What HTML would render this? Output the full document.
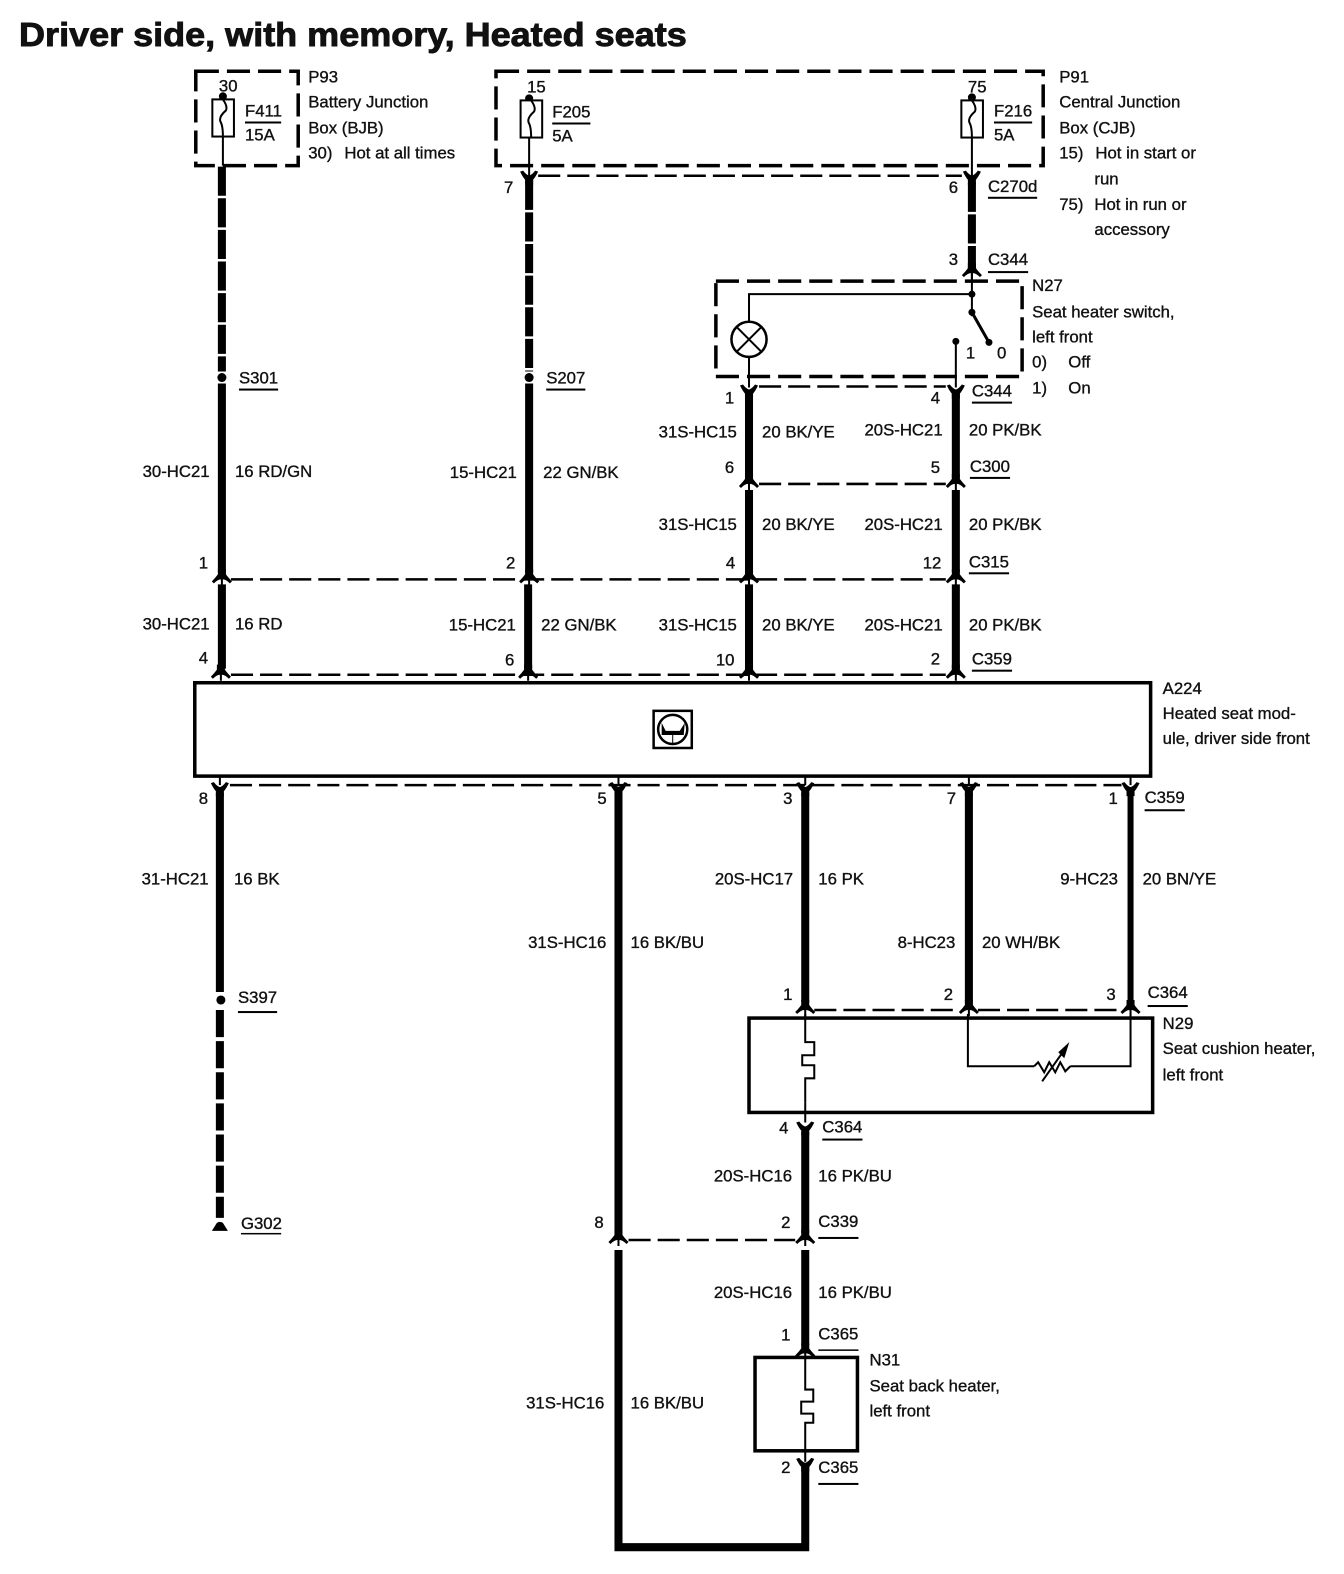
<!DOCTYPE html>
<html><head><meta charset="utf-8"><title>Driver side, with memory, Heated seats</title>
<style>
html,body{margin:0;padding:0;background:#fff;overflow:hidden}
svg{display:block}
text{font-family:"Liberation Sans",Arial,sans-serif;font-size:16.7px;fill:#111;stroke:#111;stroke-width:.35}
.t{font-size:33px;font-weight:bold;stroke-width:.9}
.b{fill:none;stroke:#000;stroke-width:3.5;stroke-dasharray:23 8}
.bus{fill:none;stroke:#000;stroke-width:2.5;stroke-dasharray:22 7}
.thin{fill:none;stroke:#000;stroke-width:2}
.box{fill:none;stroke:#000;stroke-width:3.5}
.w{stroke:#000;stroke-width:8;fill:none}
.wd{stroke:#000;stroke-width:8;fill:none;stroke-dasharray:29 2.5}
.wdl{stroke:#000;stroke-width:8;fill:none;stroke-dasharray:27 4}
</style></head><body>
<svg width="1344" height="1574" viewBox="0 0 1338.6 1567.7" preserveAspectRatio="none" xmlns="http://www.w3.org/2000/svg">
<defs>
<path id="up" d="M-4 -8 L4 -8 L4 -3 Q6 0 10 4 L8 6 Q4 2 1 2 L1 8 L-1 8 L-1 2 Q-4 2 -8 6 L-10 4 Q-6 0 -4 -3 Z" fill="#000"/>
<path id="yy" d="M-9 -5 L-6 -6 Q-3 -2 0 -1 Q3 -2 6 -6 L9 -5 Q6 1 4 3 L4 8 L-4 8 L-4 3 Q-6 1 -9 -5 Z" fill="#000"/>
<g id="fuse"><rect x="-10.5" y="0" width="21.5" height="37" fill="#fff" stroke="#000" stroke-width="2"/><path d="M0 0 Q5 7 3 11 Q-5 18 -2 23 Q0 27 0 37" class="thin"/></g>
<g id="heat"><path d="M0 0 V24 H9 V37 H-3 V47 H9 V60 H0 V84" class="thin"/></g>
</defs>
<rect width="1344" height="1574" fill="#fff"/>
<text class="t" x="19" y="46" textLength="665" lengthAdjust="spacingAndGlyphs">Driver side, with memory, Heated seats</text>

<!-- Junction boxes -->
<rect class="b" x="195" y="71" width="102" height="94"/>
<rect class="b" x="494" y="71" width="545" height="94"/>
<path class="thin" d="M222 92V165M527 98V178M968 94V178"/>
<circle cx="222" cy="96" r="4"/><circle cx="527" cy="98" r="4"/><circle cx="968" cy="97" r="4"/>
<use href="#fuse" x="222" y="99"/><use href="#fuse" x="529" y="100"/><use href="#fuse" x="968" y="100"/>
<rect x="244" y="121" width="36" height="2"/><rect x="550" y="122" width="38" height="2"/><rect x="990" y="121" width="38" height="2"/>

<text x="218" y="91">30</text><text x="525" y="92">15</text><text x="964" y="92">75</text>
<text x="244" y="116">F411</text><text x="244" y="140">15A</text>
<text x="550" y="117">F205</text><text x="550" y="141">5A</text>
<text x="990" y="116">F216</text><text x="990" y="140">5A</text>
<text x="307" y="82">P93</text><text x="307" y="107">Battery Junction</text><text x="307" y="133">Box (BJB)</text>
<text x="307" y="158">30)</text><text x="343" y="158">Hot at all times</text>
<text x="1055" y="82">P91</text><text x="1055" y="107">Central Junction</text><text x="1055" y="133">Box (CJB)</text>
<text x="1055" y="158">15)</text><text x="1091" y="158">Hot in start or</text><text x="1090" y="184">run</text>
<text x="1055" y="209">75)</text><text x="1090" y="209">Hot in run or</text><text x="1090" y="234">accessory</text>

<!-- Upper wires -->
<path class="wd" d="M221 166V370"/><circle cx="221" cy="376" r="4.5"/><path class="w" d="M221 382V570"/>
<path class="wd" d="M527 180V370"/><circle cx="527" cy="376" r="4.5"/><path class="w" d="M527 382V570"/>
<path class="wd" d="M968 182V268"/>
<use href="#yy" x="527" y="176"/><use href="#yy" x="968" y="176"/><path class="bus" d="M536 175H958"/>
<use href="#up" x="968" y="270"/>

<!-- Seat switch N27 -->
<rect class="b" x="713" y="280" width="305" height="95"/>
<path class="thin" d="M968 272V315M746 322V293H968M746 354V386M952 340V386"/>
<path d="M968 311L985 341" stroke="#000" stroke-width="3"/>
<circle cx="968" cy="293" r="3.5"/><circle cx="968" cy="311" r="3.5"/><circle cx="985" cy="341" r="3.5"/><circle cx="952" cy="340" r="3.5"/>
<circle cx="746" cy="338" r="17.5" fill="#fff" stroke="#000" stroke-width="2.5"/>
<path class="thin" d="M734 326L758 350M758 326L734 350"/>
<text x="962" y="357">1</text><text x="993" y="357">0</text>
<text x="1028" y="290">N27</text><text x="1028" y="316">Seat heater switch,</text><text x="1028" y="341">left front</text>
<text x="1028" y="366">0)</text><text x="1064" y="366">Off</text><text x="1028" y="392">1)</text><text x="1064" y="392">On</text>

<!-- Middle wires -->
<path class="w" d="M746 390V476M952 390V476M746 488V570M952 488V570M221 582V666M526 582V666M746 582V666M952 582V666"/>
<use href="#yy" x="746" y="389"/><use href="#yy" x="952" y="389"/>
<use href="#up" x="746" y="480"/><use href="#up" x="952" y="480"/>
<use href="#up" x="221" y="575"/><use href="#up" x="527" y="575"/><use href="#up" x="746" y="575"/><use href="#up" x="952" y="575"/>
<use href="#up" x="220" y="670"/><use href="#up" x="526" y="670"/><use href="#up" x="746" y="670"/><use href="#up" x="952" y="670"/>
<path class="bus" d="M756 385H942M756 482H942M230 577H942M230 672H942"/>

<text x="502" y="192">7</text><text x="945" y="192">6</text>
<text x="984" y="191">C270d</text><rect x="984" y="196" width="49" height="2"/>
<text x="945" y="264">3</text><text x="984" y="264">C344</text><rect x="984" y="270" width="40" height="2"/>
<text x="238" y="382">S301</text><rect x="238" y="387" width="39" height="2"/>
<text x="544" y="382">S207</text><rect x="544" y="387" width="39" height="2"/>
<text x="722" y="402">1</text><text x="927" y="402">4</text><text x="968" y="395">C344</text><rect x="968" y="400" width="40" height="2"/>
<text x="656" y="436">31S-HC15</text><text x="759" y="436">20 BK/YE</text><text x="861" y="434">20S-HC21</text><text x="965" y="434">20 PK/BK</text>
<text x="142" y="475">30-HC21</text><text x="234" y="475">16 RD/GN</text><text x="448" y="476">15-HC21</text><text x="541" y="476">22 GN/BK</text>
<text x="722" y="471">6</text><text x="927" y="471">5</text><text x="966" y="470">C300</text><rect x="966" y="475" width="40" height="2"/>
<text x="656" y="528">31S-HC15</text><text x="759" y="528">20 BK/YE</text><text x="861" y="528">20S-HC21</text><text x="965" y="528">20 PK/BK</text>
<text x="198" y="566">1</text><text x="504" y="566">2</text><text x="723" y="566">4</text><text x="919" y="566">12</text><text x="965" y="565">C315</text><rect x="965" y="570" width="40" height="2"/>
<text x="142" y="627">30-HC21</text><text x="234" y="627">16 RD</text><text x="447" y="628">15-HC21</text><text x="539" y="628">22 GN/BK</text>
<text x="656" y="628">31S-HC15</text><text x="759" y="628">20 BK/YE</text><text x="861" y="628">20S-HC21</text><text x="965" y="628">20 PK/BK</text>
<text x="198" y="661">4</text><text x="503" y="663">6</text><text x="713" y="663">10</text><text x="927" y="662">2</text><text x="968" y="662">C359</text><rect x="968" y="667" width="40" height="2"/>

<!-- Module A224 -->
<rect class="box" x="194" y="680" width="952" height="93" fill="#fff"/>
<rect x="651" y="708" width="38" height="37" fill="#fff" stroke="#000" stroke-width="2.5"/>
<circle cx="670" cy="726.500" r="14.500" fill="none" stroke="#000" stroke-width="2.5"/>
<path d="M659 720L663 728H677L682 720L681 732H659Z" fill="#000"/><path d="M670 732V741" stroke="#000" stroke-width="1"/>
<text x="1158" y="691">A224</text><text x="1158" y="716">Heated seat mod-</text><text x="1158" y="741">ule, driver side front</text>

<!-- Lower wires -->
<path class="thin" d="M219 773V782M616 773V782M802 773V782M965 773V782M1126 773V782"/>
<use href="#yy" x="219" y="785"/><use href="#yy" x="616" y="785"/><use href="#yy" x="802" y="785"/><use href="#yy" x="965" y="785"/><use href="#yy" x="1126" y="785"/>
<path class="bus" d="M229 782H1117"/>
<path class="w" d="M219 790V988M616 790V1228M802 790V998M965 790V998"/>
<path stroke="#000" stroke-width="6" d="M1126 790V998"/>
<circle cx="220" cy="996" r="4.500"/>
<path class="wdl" d="M219 1006V1213"/>
<path d="M211 1226H227L222 1218Q219 1216 216 1218Z" fill="#000"/>
<use href="#up" x="802" y="1004"/><use href="#up" x="965" y="1004"/><use href="#up" x="1126" y="1004"/>
<path class="bus" d="M811 1006H956M974 1006H1117"/>

<!-- N29 -->
<rect class="box" x="746" y="1014" width="402" height="94"/>
<path class="thin" d="M802 1010V1014M964 1010V1062H1030M1066 1062H1126V1010"/>
<use href="#heat" x="802" y="1014"/>
<path class="thin" d="M802 1098V1118"/>
<path class="thin" d="M1030 1062L1034 1058L1040 1068L1045 1058L1051 1068L1056 1058L1061 1067L1066 1062"/>
<path class="thin" d="M1038 1077L1062 1043"/><path d="M1065 1038L1054 1048L1060 1054Z" fill="#000"/>
<use href="#yy" x="802" y="1123"/>
<path class="w" d="M802 1128V1228"/>
<text x="776" y="1129">4</text><text x="819" y="1128">C364</text><rect x="819" y="1134" width="40" height="2"/>
<text x="1158" y="1025">N29</text><text x="1158" y="1050">Seat cushion heater,</text><text x="1158" y="1076">left front</text>

<!-- C339 -->
<use href="#up" x="616" y="1233"/><use href="#up" x="802" y="1233"/>
<path class="bus" d="M626 1235H792"/>
<path class="w" d="M616 1245V1541H802V1458M802 1245V1340"/>
<use href="#up" x="802" y="1346"/>

<!-- N31 -->
<rect class="box" x="752" y="1352" width="102" height="93"/>
<path class="thin" d="M802 1352V1384H810V1396H798V1408H810V1417H802V1456"/>
<use href="#yy" x="802" y="1458"/>

<text x="198" y="801">8</text><text x="595" y="801">5</text><text x="780" y="801">3</text><text x="943" y="801">7</text><text x="1104" y="801">1</text><text x="1140" y="800">C359</text><rect x="1140" y="806" width="40" height="2"/>
<text x="141" y="881">31-HC21</text><text x="233" y="881">16 BK</text>
<text x="712" y="881">20S-HC17</text><text x="815" y="881">16 PK</text>
<text x="1056" y="881">9-HC23</text><text x="1138" y="881">20 BN/YE</text>
<text x="526" y="944">31S-HC16</text><text x="628" y="944">16 BK/BU</text>
<text x="894" y="944">8-HC23</text><text x="978" y="944">20 WH/BK</text>
<text x="237" y="999">S397</text><rect x="237" y="1007" width="39" height="2"/>
<text x="780" y="996">1</text><text x="940" y="996">2</text><text x="1102" y="996">3</text><text x="1143" y="994">C364</text><rect x="1143" y="1001" width="40" height="2"/>
<text x="711" y="1177">20S-HC16</text><text x="815" y="1177">16 PK/BU</text>
<text x="240" y="1224">G302</text><rect x="240" y="1228" width="40" height="1.5"/>
<text x="592" y="1223">8</text><text x="778" y="1223">2</text><text x="815" y="1222">C339</text><rect x="815" y="1232" width="40" height="2"/>
<text x="711" y="1293">20S-HC16</text><text x="815" y="1293">16 PK/BU</text>
<text x="778" y="1335">1</text><text x="815" y="1334">C365</text><rect x="815" y="1344" width="40" height="1.500"/>
<text x="866" y="1360">N31</text><text x="866" y="1386">Seat back heater,</text><text x="866" y="1411">left front</text>
<text x="524" y="1403">31S-HC16</text><text x="628" y="1403">16 BK/BU</text>
<text x="778" y="1467">2</text><text x="815" y="1467">C365</text><rect x="815" y="1477" width="40" height="2"/>
</svg>
</body></html>
